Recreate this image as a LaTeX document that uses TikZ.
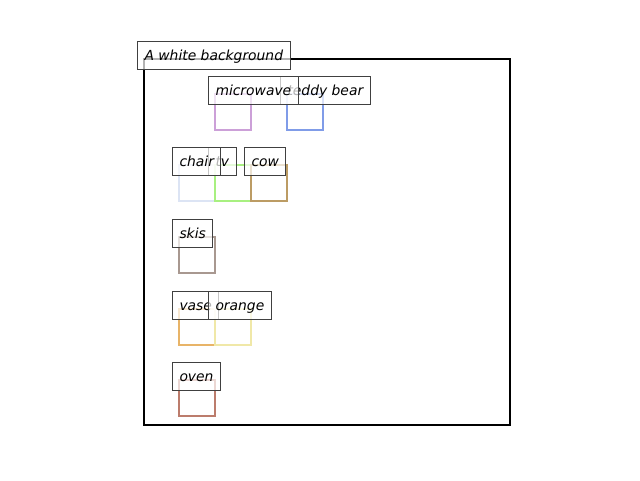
\documentclass[tikz,border=0pt]{standalone}
\usepackage{fontspec}
\setmainfont{DejaVu Sans}
\begin{document}
\begin{tikzpicture}[x=0.75pt,y=-0.75pt,
  frame/.style={draw=black,line width=1.5pt},
  obj/.style={line width=1.5pt},
  lbl/.style={draw=black!75,line width=0.75pt,fill=white,fill opacity=0.7,text opacity=1,
    anchor=north west,inner xsep=5.25pt,inner ysep=0pt,minimum height=21pt,
    text height=1.0em,text depth=0.24em,font=\fontsize{10.4pt}{12pt}\selectfont\itshape}]
\useasboundingbox (0,0) rectangle (640,480);
\definecolor{cmw}{HTML}{CCA0D8}
\definecolor{cted}{HTML}{809CE8}
\definecolor{cchair}{HTML}{DCE4F4}
\definecolor{ctv}{HTML}{A8F080}
\definecolor{ccow}{HTML}{BC9C64}
\definecolor{cskis}{HTML}{A89890}
\definecolor{cvase}{HTML}{E8B468}
\definecolor{corange}{HTML}{F0E8A8}
\definecolor{coven}{HTML}{BC7C6C}
% frame
\draw[frame] (144,59) rectangle (510,425);
% object rectangles
\draw[obj,draw=cmw] (215,94) rectangle (251,130);
\draw[obj,draw=cted] (287,94) rectangle (323,130);
\draw[obj,draw=cchair] (179,165) rectangle (215,201);
\draw[obj,draw=ctv] (215,165) rectangle (251,201);
\draw[obj,draw=ccow] (251,165) rectangle (287,201);
\draw[obj,draw=cskis] (179,237) rectangle (215,273);
\draw[obj,draw=cvase] (179,309) rectangle (215,345);
\draw[obj,draw=corange] (215,309) rectangle (251,345);
\draw[obj,draw=coven] (179,380) rectangle (215,416);
% labels
\node[lbl] (title) at (137,41) {A white background};
\node[lbl] (teddy) at (280,76) {teddy bear};
\node[lbl] (microwave) at (208,76) {microwave};
\node[lbl] (tv) at (208,147) {tv};
\node[lbl] (chair) at (172,147) {chair};
\node[lbl] (cow) at (244,147) {cow};
\node[lbl] (skis) at (172,219) {skis};
\node[lbl] (vase) at (172,291) {vase};
\node[lbl] (orange) at (208,291) {orange};
\node[lbl] (oven) at (172,362) {oven};
\end{tikzpicture}
\end{document}
